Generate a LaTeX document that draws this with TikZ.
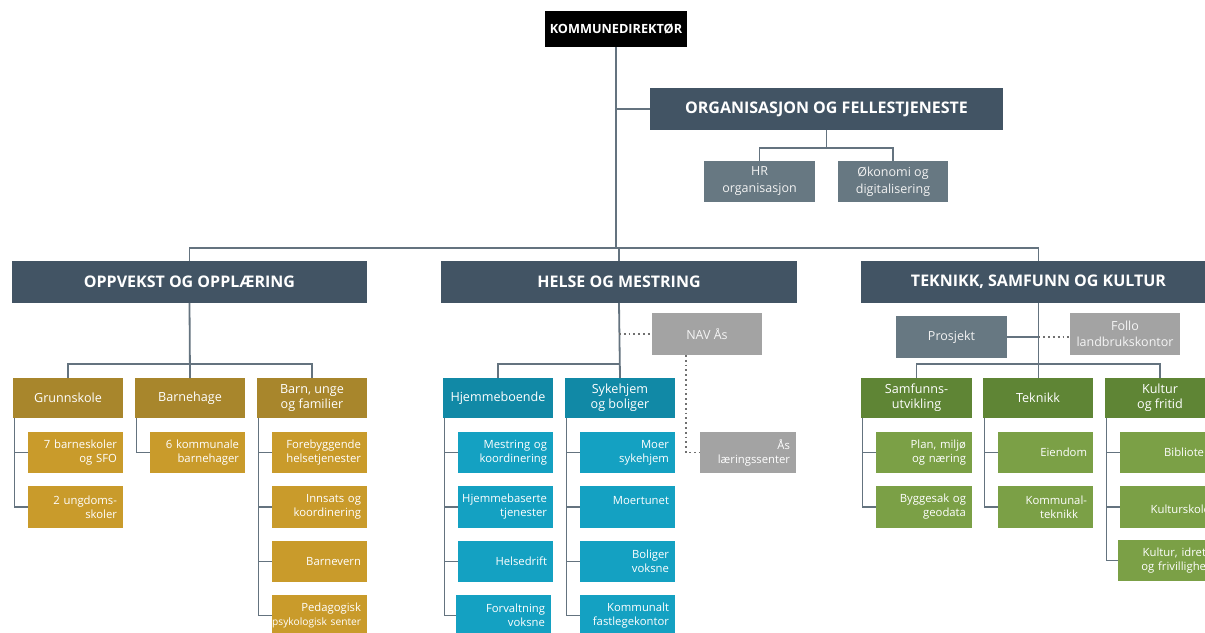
\documentclass[tikz,border=0pt]{standalone}
\usepackage{fontspec}
\setmainfont{Open Sans}
\usetikzlibrary{calc}
\definecolor{hdr}{HTML}{425464}
\definecolor{gblue}{HTML}{677882}
\definecolor{lgray}{HTML}{A3A3A3}
\definecolor{goldP}{HTML}{A8862C}
\definecolor{goldC}{HTML}{C99B2B}
\definecolor{tealP}{HTML}{1189A6}
\definecolor{tealC}{HTML}{14A1C2}
\definecolor{grnP}{HTML}{5F8535}
\definecolor{grnC}{HTML}{7BA046}
\definecolor{conn}{HTML}{64737F}
\definecolor{dotc}{HTML}{707070}
\tikzset{
  basebox/.style={inner sep=0pt, outer sep=0pt, text=white},
  topbox/.style={basebox, fill=black, font=\bfseries\fontsize{12.7}{14}\selectfont},
  hdrbox/.style={basebox, fill=hdr, font=\bfseries\fontsize{16}{18}\selectfont},
  gbbox/.style={basebox, fill=gblue, align=center, text=white!90!gray, font=\fontsize{12.5}{17}\selectfont},
  grbox/.style={basebox, fill=lgray, align=center, text=white!92!gray, font=\fontsize{12.5}{16}\selectfont},
  parbox/.style={basebox, align=center, font=\fontsize{12.6}{15}\selectfont},
  chbox/.style={basebox, align=right, font=\fontsize{11.3}{14}\selectfont},
  conline/.style={draw=conn, line width=1.8pt},
  dotline/.style={draw=dotc, line width=1.6pt, dash pattern=on 1.8pt off 3pt},
}
% \bx{name}{x1}{y1}{x2}{y2}{style}{text}
\newcommand\bx[7]{\node[#6, minimum width={(#4-#2)*1pt}, minimum height={(#5-#3)*1pt}] (#1) at ({(#2+#4)/2},{(#3+#5)/2}) {#7};}
% right-aligned child box
\newcommand\cbx[7]{\node[chbox, fill=#6, minimum width={(#4-#2)*1pt}, minimum height={(#5-#3)*1pt}, text width={(#4-#2-12)*1pt}] (#1) at ({(#2+#4)/2},{(#3+#5)/2}) {#7};}
\begin{document}
\begin{tikzpicture}[x=1pt,y=-1pt]
\useasboundingbox (0,0) rectangle (1205,632);
\fill[white] (0,0) rectangle (1205,632);
\coordinate (bus) at (617,248);
\coordinate (jy) at (0,364);
% boxes
\bx{kd}{545}{11}{687}{47}{topbox}{KOMMUNEDIREKTØR}
\bx{org}{650}{88}{1003}{130}{hdrbox}{ORGANISASJON OG FELLESTJENESTE}
\bx{hr}{704}{161}{815}{202}{gbbox}{HR\\organisasjon}
\bx{ok}{838}{161}{948}{202}{gbbox}{Økonomi og\\digitalisering}
\bx{oo}{12}{261}{367}{303}{hdrbox}{OPPVEKST OG OPPLÆRING}
\bx{hm}{441}{261}{797}{303}{hdrbox}{HELSE OG MESTRING}
\bx{tk}{861}{261}{1216}{303}{hdrbox}{TEKNIKK, SAMFUNN OG KULTUR}
% Oppvekst
\bx{gs}{13}{378}{123}{418}{parbox, fill=goldP}{Grunnskole}
\bx{bh}{135}{378}{245}{418}{parbox, fill=goldP}{Barnehage}
\bx{bu}{257}{378}{367}{418}{parbox, fill=goldP}{Barn, unge\\og familier}
\cbx{g1}{28}{432}{123}{473}{goldC}{7 barneskoler\\og SFO}
\cbx{g2}{28}{486}{123}{528}{goldC}{2 ungdoms-\\skoler}
\cbx{b1}{150}{432}{245}{473}{goldC}{6 kommunale\\barnehager}
\cbx{u1}{272}{432}{367}{473}{goldC}{Forebyggende\\helsetjenester}
\cbx{u2}{272}{486}{367}{528}{goldC}{Innsats og\hspace*{3pt}\\koordinering}
\cbx{u3}{272}{541}{367}{582}{goldC}{Barnevern}
\cbx{u4}{272}{595}{367}{636}{goldC}{Pedagogisk\\\hspace*{-12pt}{\fontsize{10.2}{14}\selectfont psykologisk~senter}}
% Helse
\bx{nav}{652}{313}{762}{355}{grbox}{NAV Ås}
\bx{hb}{443}{378}{553}{418}{parbox, fill=tealP}{Hjemmeboende}
\bx{sb}{565}{378}{675}{418}{parbox, fill=tealP}{Sykehjem\\og boliger}
\cbx{h1}{458}{432}{553}{473}{tealC}{Mestring og\\koordinering}
\cbx{h2}{458}{486}{553}{528}{tealC}{\hspace*{-6pt}Hjemmebaserte\\tjenester}
\cbx{h3}{458}{541}{553}{582}{tealC}{Helsedrift}
\cbx{h4}{456}{595}{551}{636}{tealC}{Forvaltning\\voksne}
\cbx{s1}{580}{432}{675}{473}{tealC}{Moer\\sykehjem}
\cbx{s2}{580}{486}{675}{528}{tealC}{Moertunet\\\mbox{}}
\cbx{s3}{580}{541}{675}{582}{tealC}{Boliger\\voksne}
\cbx{s4}{580}{595}{675}{636}{tealC}{Kommunalt\\fastlegekontor}
\cbx{als}{700}{432}{796}{473}{lgray}{Ås\\læringssenter}
% Teknikk
\bx{pr}{896}{316}{1007}{358}{gbbox}{Prosjekt}
\bx{fl}{1070}{313}{1180}{355}{grbox}{Follo\\landbrukskontor}
\bx{sa}{861}{378}{972}{418}{parbox, fill=grnP}{Samfunns-\\utvikling}
\bx{te}{983}{378}{1093}{418}{parbox, fill=grnP}{Teknikk}
\bx{kf}{1105}{378}{1215}{418}{parbox, fill=grnP}{Kultur\\og fritid}
\cbx{sa1}{876}{432}{972}{473}{grnC}{Plan, miljø\\og næring}
\cbx{sa2}{876}{486}{972}{528}{grnC}{Byggesak og\\geodata}
\cbx{te1}{998}{432}{1093}{473}{grnC}{Eiendom}
\cbx{te2}{998}{486}{1093}{528}{grnC}{Kommunal-\hspace*{7pt}\\teknikk\hspace*{9pt}}
\cbx{k1}{1120}{432}{1216}{473}{grnC}{Bibliotek}
\cbx{k2}{1120}{486}{1216}{528}{grnC}{\mbox{}\\Kulturskole}
\cbx{k3}{1118}{540}{1216}{581}{grnC}{Kultur, idrett\\og frivillighet}
% main connectors
\draw[conline] (kd.south) -- (kd.south |- bus);
\draw[conline] (kd.south |- org.west) -- (org.west);
\draw[conline] (oo.north) |- (bus) -| (tk.north);
\draw[conline] (hm.north) -- (hm.north |- bus);
\draw[conline] (org.south) -- ++(0,18) -| (hr.north);
\draw[conline] (org.south) -- ++(0,18) -| (ok.north);
% Oppvekst
\draw[conline] (oo.south) -- (bh.north);
\draw[conline] (gs.north) |- (bh.north |- jy) -| (bu.north);
\draw[conline] ([xshift=1.5pt]gs.south west) |- (g1.west);
\draw[conline] ([xshift=1.5pt]gs.south west) |- (g2.west);
\draw[conline] ([xshift=1.5pt]bh.south west) |- (b1.west);
\draw[conline] ([xshift=1.5pt]bu.south west) |- (u1.west);
\draw[conline] ([xshift=1.5pt]bu.south west) |- (u2.west);
\draw[conline] ([xshift=1.5pt]bu.south west) |- (u3.west);
\draw[conline] ([xshift=1.5pt]bu.south west) |- (u4.west);
% Helse
\draw[conline] (hm.south) -- (sb.north);
\draw[conline] (hb.north) |- (hm.south |- jy);
\draw[dotline] (hm.south |- nav.west) -- (nav.west);
\draw[dotline] ([xshift=34pt]nav.south west) |- (als.west);
\draw[conline] ([xshift=1.5pt]hb.south west) |- (h1.west);
\draw[conline] ([xshift=1.5pt]hb.south west) |- (h2.west);
\draw[conline] ([xshift=1.5pt]hb.south west) |- (h3.west);
\draw[conline] ([xshift=1.5pt]hb.south west) |- (h4.west);
\draw[conline] ([xshift=1.5pt]sb.south west) |- (s1.west);
\draw[conline] ([xshift=1.5pt]sb.south west) |- (s2.west);
\draw[conline] ([xshift=1.5pt]sb.south west) |- (s3.west);
\draw[conline] ([xshift=1.5pt]sb.south west) |- (s4.west);
% Teknikk
\draw[conline] (tk.south) -- (te.north -| tk.south);
\draw[conline] (sa.north) |- (tk.south |- jy) -| (kf.north);
\draw[conline] (pr.east) -- (tk.south |- pr.east);
\draw[dotline] (tk.south |- pr.east) -- (fl.west |- pr.east);
\draw[conline] ([xshift=1.5pt]sa.south west) |- (sa1.west);
\draw[conline] ([xshift=1.5pt]sa.south west) |- (sa2.west);
\draw[conline] ([xshift=1.5pt]te.south west) |- (te1.west);
\draw[conline] ([xshift=1.5pt]te.south west) |- (te2.west);
\draw[conline] ([xshift=1.5pt]kf.south west) |- (k1.west);
\draw[conline] ([xshift=1.5pt]kf.south west) |- (k2.west);
\draw[conline] ([xshift=1.5pt]kf.south west) |- (k3.west);
\end{tikzpicture}
\end{document}
